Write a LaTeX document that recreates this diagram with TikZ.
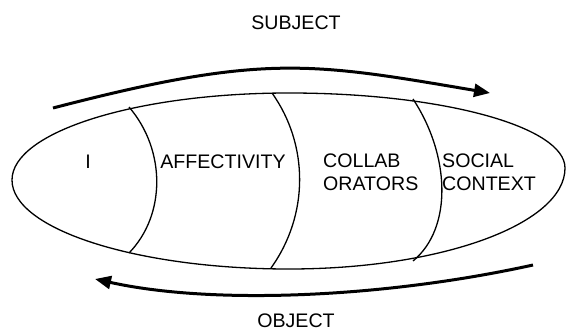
\documentclass[tikz,border=0pt]{standalone}
\usepackage{fontspec}
\setmainfont{Liberation Sans}
\usetikzlibrary{arrows.meta}
\begin{document}
\begin{tikzpicture}[x=1pt,y=-1pt,
  lbl/.style={font=\fontsize{19.6}{23}\selectfont, inner sep=0pt, align=left},
  outline/.style={line width=1.3pt},
  flow/.style={line width=3pt, -{Triangle[length=16pt,width=13pt]}}]
\useasboundingbox (0,0) rectangle (567,332);
% outer oval
\draw[outline] (12,180) .. controls (12,132) and (136,93) .. (289,93)
  .. controls (442,93) and (565,126.6) .. (565,168)
  .. controls (565,223.8) and (442,269) .. (289,269)
  .. controls (136,269) and (12,229) .. (12,180) -- cycle;
% dividers
\coordinate (d1t) at (129,107); \coordinate (d1b) at (129,253);
\coordinate (d2t) at (272,93);  \coordinate (d2b) at (271,268);
\coordinate (d3t) at (413,99);  \coordinate (d3b) at (413,261);
\draw[outline] (d1t) .. controls (166,150) and (166,215) .. (d1b);
\draw[outline] (d2t) .. controls (309,145) and (309,215) .. (d2b);
\draw[outline] (d3t) .. controls (450,155) and (453,228) .. (d3b);
% labels
\node[lbl] (subject) at (296,23) {SUBJECT};
\node[lbl] (object) at (296,320.5) {OBJECT};
\node[lbl] (i) at (88,161.5) {I};
\node[lbl] (aff) at (223,161.5) {AFFECTIVITY};
\node[lbl,anchor=west] (collab) at (323,172.5) {COLLAB\\ORATORS};
\node[lbl,anchor=west] (social) at (442,172.5) {SOCIAL\\CONTEXT};
% flow arrows
\coordinate (s0) at (53,108); \coordinate (s1) at (490,93);
\coordinate (o0) at (533,265); \coordinate (o1) at (95,279);
\draw[flow] (s0) .. controls (263,53.4) and (310,62.4) .. (s1);
\draw[flow] (o0) .. controls (383,298) and (212,305) .. (o1);
\end{tikzpicture}
\end{document}
